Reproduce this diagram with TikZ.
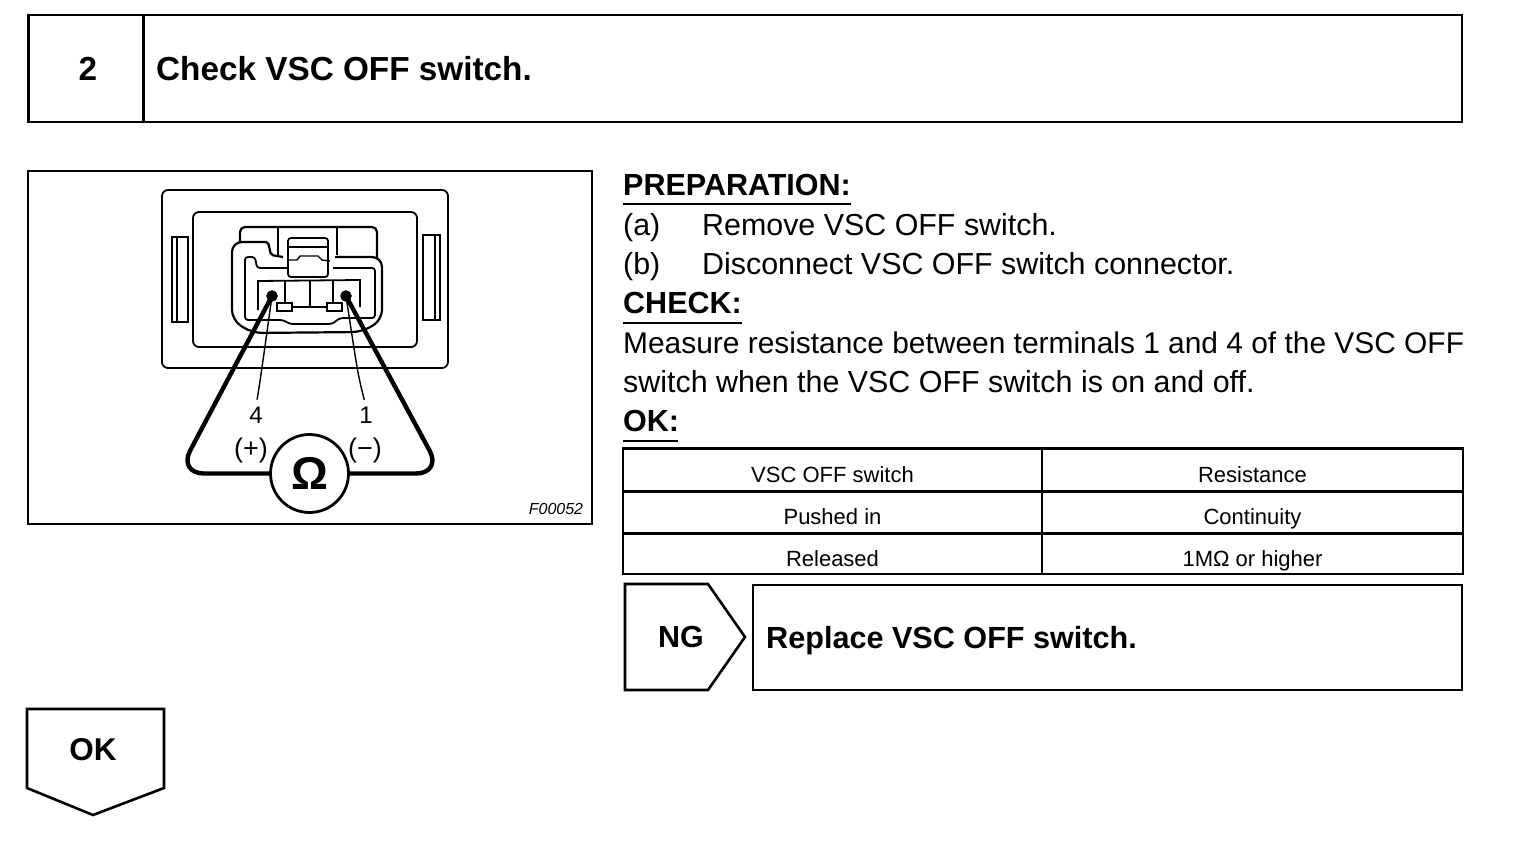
\documentclass[tikz,border=0pt]{standalone}
\usepackage{fontspec}
\setmainfont{Liberation Sans}
\newcommand{\fsize}[1]{\fontsize{#1}{#1}\selectfont}
\begin{document}
\begin{tikzpicture}[x=1pt,y=-1pt,
    every node/.style={inner sep=0pt},
    cell/.style={draw,line width=2.6pt,rectangle},
    head/.style={font=\fsize{33.3}\bfseries},
    body/.style={font=\fsize{30.4},anchor=base west},
    sub/.style={font=\fsize{30.5}\bfseries,anchor=base west},
    tab/.style={cell,minimum height=42.5pt,text height=24pt,text depth=0pt,font=\fsize{22}},
    part/.style={line width=1.8pt,rounded corners=3pt},
    thinpart/.style={line width=1.4pt},
    lead/.style={line width=4.4pt,rounded corners=26pt},
    pin/.style={draw,fill,circle,minimum size=11pt}]
    \useasboundingbox (0,0) rectangle (1520,854);
    % title bar
    \node[cell,minimum width=115pt,minimum height=107pt,head] (num) at (86,68.5) {\hspace*{4pt}2};
    \node[cell,minimum width=1319pt,minimum height=107pt] (titlebox) at (802.5,68.5) {};
    \node[head,anchor=base west] (title) at (156,80) {Check VSC OFF switch.};
    % figure
    \node[cell,minimum width=564pt,minimum height=353pt] (figbox) at (310,347.5) {};
    \draw[part,rounded corners=6pt] (162,190) rectangle (448,368);
    \draw[part,rounded corners=6pt] (193,212) rectangle (417,347);
    \draw[thinpart] (172,237) rectangle (188,322);
    \draw[thinpart] (423,235) rectangle (440,320);
    \draw[thinpart] (177,237) -- (177,322) (435,235) -- (435,320);
    % connector shell
    \draw[part,line width=2.2pt,rounded corners=5pt] (240,242) -- (240,227) -- (377,227) -- (377,258);
    \draw[part,line width=2.2pt,rounded corners=2pt] (283,257) -- (271,255) -- (268,242)
        [rounded corners=10pt] -- (232,242) -- (232,320) -- (252,333) -- (362,332) -- (382,320) -- (382,257) -- (335,257);
    \draw[part] (287,268) -- (257,268) -- (255,257) -- (245,257) -- (245,320) -- (283,320) -- (290,324)
        -- (332,324) -- (340,318) -- (375,318) -- (375,268) -- (333,268);
    % latch
    \draw[part] (288,238) rectangle (328,277);
    \draw[thinpart] (288,247) -- (328,247);
    \draw[thinpart] (288,260) -- (297,260) -- (300,256) -- (318,256) -- (322,260) -- (330,261);
    \draw[thinpart] (278,228) -- (278,255) (337,228) -- (337,255);
    % terminal well
    \draw[part,rounded corners=0pt] (258,310) -- (258,281) -- (360,280) -- (360,307);
    \draw[thinpart] (285,281) -- (285,302) (310,281) -- (310,307) (333,281) -- (333,302) (287,307) -- (332,307);
    \draw[thinpart,fill=white] (277,303) rectangle (292,311);
    \draw[thinpart,fill=white] (327,303) rectangle (342,311);
    % meter and leads
    \node[pin] (pinfour) at (272,296) {};
    \node[pin] (pinone) at (346,296) {};
    \node[draw,circle,line width=2.8pt,minimum size=78pt,font=\fsize{46}\bfseries] (meter) at (309.5,473.5) {Ω};
    \draw[lead] (pinfour.center) -- (178,473.5) -- (meter.west);
    \draw[lead] (pinone.center) -- (442,473.5) -- (meter.east);
    \node[font=\fsize{24}] (labfour) at (256,415) {4};
    \node[font=\fsize{24}] (labone) at (366,415) {1};
    \node[font=\fsize{27}] (plus) at (251,451) {(+)};
    \node[font=\fsize{27}] (minus) at (365,451) {(−)};
    \draw[thinpart,shorten >=7pt] (pinfour) .. controls (261,375) .. (labfour.north);
    \draw[thinpart,shorten >=7pt] (pinone) .. controls (358,375) .. (labone.north);
    \node[font=\fsize{16}\itshape] (figno) at (556,509) {F00052};
    % instructions
    \node[sub] (prep) at (623,195) {PREPARATION:};
    \node[body] (stepa) at (623,235) {(a)};
    \node[body] (stepatext) at (702,235) {Remove VSC OFF switch.};
    \node[body] (stepb) at (623,274) {(b)};
    \node[body] (stepbtext) at (702,274) {Disconnect VSC OFF switch connector.};
    \node[sub] (check) at (623,313) {CHECK:};
    \node[body,font=\fsize{29.9}] (lineone) at (623,353) {Measure resistance between terminals 1 and 4 of the VSC OFF};
    \node[body] (linetwo) at (623,392) {switch when the VSC OFF switch is on and off.};
    \node[sub] (okhead) at (623,431) {OK:};
    \draw[line width=1.4pt] (prep.base west)++(0,9) -- ++(228,0);
    \draw[line width=1.4pt] (check.base west)++(0,10) -- ++(119,0);
    \draw[line width=1.4pt] (okhead.base west)++(0,10) -- ++(55,0);
    % table
    \node[tab,minimum width=419pt] (aa) at (832.5,470) {VSC OFF switch};
    \node[tab,minimum width=421pt] (ab) at (1252.5,470) {Resistance};
    \node[tab,minimum width=419pt] (ba) at (832.5,512.5) {Pushed in};
    \node[tab,minimum width=421pt] (bb) at (1252.5,512.5) {Continuity};
    \node[tab,minimum width=419pt,minimum height=40pt] (ca) at (832.5,554) {Released};
    \node[tab,minimum width=421pt,minimum height=40pt] (cb) at (1252.5,554) {1MΩ or higher};
    % result boxes
    \draw[cell] (625,584) -- (708,584) -- (745,637) -- (708,690) -- (625,690) -- cycle;
    \node[font=\fsize{30.5}\bfseries] (ngtag) at (681,637) {NG};
    \node[cell,minimum width=709pt,minimum height=105pt] (fixbox) at (1107.5,637.5) {};
    \node[font=\fsize{30.6}\bfseries,anchor=base west] (fix) at (766,648) {Replace VSC OFF switch.};
    \draw[cell] (27,709) -- (164,709) -- (164,788) -- (93,815) -- (27,788) -- cycle;
    \node[font=\fsize{31.5}\bfseries] (oktag) at (93,750) {OK};
\end{tikzpicture}
\end{document}
